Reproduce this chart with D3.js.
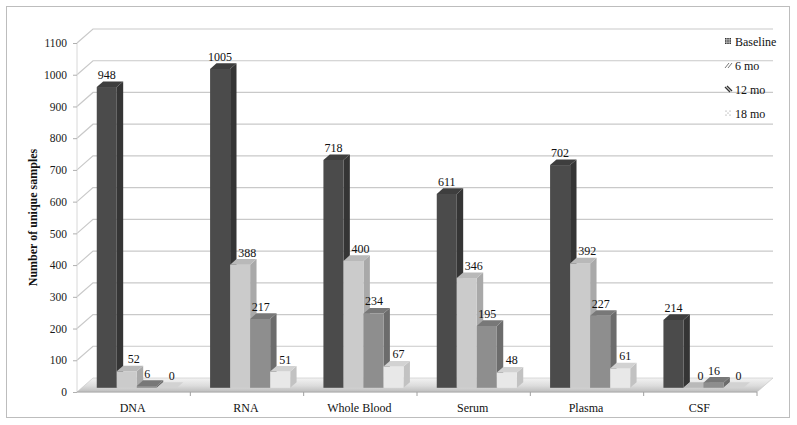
<!DOCTYPE html>
<html>
<head>
<meta charset="utf-8">
<script src="https://cdn.jsdelivr.net/npm/d3@7"></script>
<style>
  html, body { margin: 0; padding: 0; background: #fff; }
  svg { display: block; }
  text { font-family: "Liberation Serif", "Times New Roman", serif; }
</style>
</head>
<body>
<svg id="chart" width="797" height="425"></svg>
<script>
// ---- data ----
const categories = ["DNA", "RNA", "Whole Blood", "Serum", "Plasma", "CSF"];
const series = ["Baseline", "6 mo", "12 mo", "18 mo"];
const baseline = [948, 1005, 718, 611, 702, 214];
const mo6 = [52, 388, 400, 346, 392, 0];
const mo12 = [6, 217, 234, 195, 227, 16];
const mo18 = [0, 51, 67, 48, 61, 0];
const yTicks = [0, 100, 200, 300, 400, 500, 600, 700, 800, 900, 1000, 1100];
const yTitle = "Number of unique samples";

const seriesValues = [baseline, mo6, mo12, mo18];

// ---- styles ----
const faceColors = [
  { front: "#4b4b4b", side: "#353535", top: "#3e3e3e" },
  { front: "#cbcbcb", side: "#a9a9a9", top: "#b9b9b9" },
  { front: "#8e8e8e", side: "#6c6c6c", top: "#787878" },
  { front: "#e8e8e8", side: "#c2c2c2", top: "#d2d2d2" }
];
const labelShift = [0, 7, 0.5, 5];

const svg = d3.select("#chart");
const DX = 16, DY = -14;      // full depth offset of the floor / walls
const f0 = 0.3, f1 = 0.7;     // bar depth range (fraction of full depth)

const x0 = 77, x1 = 757, yTop = 43, yBot = 392;
const y = d3.scaleLinear().domain([0, 1100]).range([yBot, yTop]);
const x = d3.scaleBand().domain(categories).range([x0, x1]).padding(0);
const xs = d3.scaleBand().domain(series).range([0, x.bandwidth()])
  .paddingInner(0).paddingOuter(0.83).align(0.45);

// outer border
svg.append("rect").attr("x", 6.5).attr("y", 6.5).attr("width", 783).attr("height", 411)
  .attr("fill", "#fff").attr("stroke", "#bdbdbd").attr("stroke-width", 1);

// defs
const defs = svg.append("defs");
const fg = defs.append("linearGradient").attr("id", "floorGrad")
  .attr("x1", 0).attr("y1", 1).attr("x2", 0).attr("y2", 0);
fg.append("stop").attr("offset", "0%").attr("stop-color", "#bdbdbd");
fg.append("stop").attr("offset", "45%").attr("stop-color", "#dcdcdc");
fg.append("stop").attr("offset", "100%").attr("stop-color", "#f3f3f3");

// gridlines (left wall diagonal + back wall horizontal)
const grid = svg.append("g");
yTicks.filter(t => t > 0).forEach(t => {
  const yy = y(t);
  grid.append("path")
    .attr("d", `M${x0},${yy}L${x0 + DX},${yy + DY}L${x1 + DX},${yy + DY}`)
    .attr("fill", "none").attr("stroke", "#c9c9c9").attr("stroke-width", 1.2);
});

// left axis line (faint)
svg.append("line").attr("x1", x0).attr("x2", x0).attr("y1", y(1100)).attr("y2", yBot)
  .attr("stroke", "#d8d8d8").attr("stroke-width", 1);

// floor
svg.append("path")
  .attr("d", `M${x0},${yBot}L${x0 + DX},${yBot + DY}L${x1 + DX},${yBot + DY}L${x1},${yBot}Z`)
  .attr("fill", "url(#floorGrad)").attr("stroke", "#c4c4c4").attr("stroke-width", 0.6);
svg.append("line").attr("x1", x0).attr("x2", x1).attr("y1", yBot).attr("y2", yBot)
  .attr("stroke", "#ababab").attr("stroke-width", 1.1);

// boundary ticks on the x axis
categories.forEach((c) => {
  const bx = x(c) + x.bandwidth();
  svg.append("line").attr("x1", bx).attr("x2", bx).attr("y1", yBot).attr("y2", yBot + 4)
    .attr("stroke", "#a0a0a0").attr("stroke-width", 1);
});

// y axis
const yAxis = svg.append("g").attr("transform", `translate(${x0},0)`)
  .call(d3.axisLeft(y).tickValues(yTicks).tickFormat(d3.format("d"))
    .tickSize(4).tickPadding(6).tickSizeOuter(0));
yAxis.select(".domain").remove();
yAxis.selectAll(".tick line").attr("stroke", "#b0b0b0");
yAxis.selectAll(".tick text").attr("font-size", "11.5px").attr("fill", "#1a1a1a")
  .attr("font-family", "Liberation Serif, serif");

// x axis labels
const xAxis = svg.append("g").attr("transform", `translate(0,${yBot})`)
  .call(d3.axisBottom(x).tickSize(0).tickPadding(11));
xAxis.select(".domain").remove();
xAxis.selectAll(".tick text").attr("font-size", "12px").attr("fill", "#111")
  .attr("font-family", "Liberation Serif, serif").attr("dx", "-1");

// bars
const bars = svg.append("g");
const labels = svg.append("g");
const bw = xs.bandwidth();
const ddx = (f1 - f0) * DX, ddy = (f1 - f0) * DY;
categories.forEach((c, ci) => {
  series.forEach((s, si) => {
    const v = seriesValues[si][ci];
    const fx = x(c) + xs(s) + f0 * DX;
    const fyB = y(0) + f0 * DY;
    const fyT = y(v) + f0 * DY;
    const col = faceColors[si];
    const g = bars.append("g");
    g.append("path")
      .attr("d", `M${fx + bw},${fyB}L${fx + bw + ddx},${fyB + ddy}L${fx + bw + ddx},${fyT + ddy}L${fx + bw},${fyT}Z`)
      .attr("fill", col.side);
    g.append("rect").attr("x", fx).attr("y", fyT).attr("width", bw).attr("height", Math.max(0, fyB - fyT))
      .attr("fill", col.front);
    g.append("path")
      .attr("d", `M${fx},${fyT}L${fx + ddx},${fyT + ddy}L${fx + bw + ddx},${fyT + ddy}L${fx + bw},${fyT}Z`)
      .attr("fill", col.top);
    labels.append("text")
      .attr("x", fx + bw / 2 + labelShift[si])
      .attr("y", fyT + ddy - 2.5)
      .attr("text-anchor", "middle")
      .attr("font-size", "12px").attr("fill", "#111")
      .text(v);
  });
});

// y title
svg.append("text")
  .attr("transform", `translate(37,${(yTop + yBot) / 2}) rotate(-90)`)
  .attr("text-anchor", "middle")
  .attr("font-size", "12px").attr("font-weight", "bold").attr("fill", "#111")
  .text(yTitle);

// legend
const legend = svg.append("g");
const legY = [46, 70, 94, 118];
series.forEach((s, i) => {
  const ly = legY[i];
  const mx = 725, my = ly - 8;
  const m = legend.append("g").attr("transform", `translate(${mx},${my})`);
  if (i === 0) {
    m.append("rect").attr("x", 0).attr("y", 0).attr("width", 6).attr("height", 6).attr("fill", "#333");
    [1.5, 3, 4.5].forEach(p => {
      m.append("line").attr("x1", p).attr("x2", p).attr("y1", 0).attr("y2", 6).attr("stroke", "#ddd").attr("stroke-width", 0.5);
      m.append("line").attr("y1", p).attr("y2", p).attr("x1", 0).attr("x2", 6).attr("stroke", "#ddd").attr("stroke-width", 0.5);
    });
  } else if (i === 1) {
    m.append("path").attr("d", "M0,6L4,1M3,6L7,1").attr("stroke", "#777").attr("stroke-width", 1).attr("fill", "none");
  } else if (i === 2) {
    m.append("path").attr("d", "M0,1L5,6M2,0L7,5").attr("stroke", "#333").attr("stroke-width", 1.4).attr("fill", "none");
  } else {
    [[1, 5], [3, 3], [5, 1], [5, 5], [1, 1]].forEach(p => {
      m.append("circle").attr("cx", p[0]).attr("cy", p[1]).attr("r", 0.6).attr("fill", "#888");
    });
  }
  legend.append("text").attr("x", 735).attr("y", ly)
    .attr("font-size", "12px").attr("fill", "#111").text(s);
});
</script>
</body>
</html>
